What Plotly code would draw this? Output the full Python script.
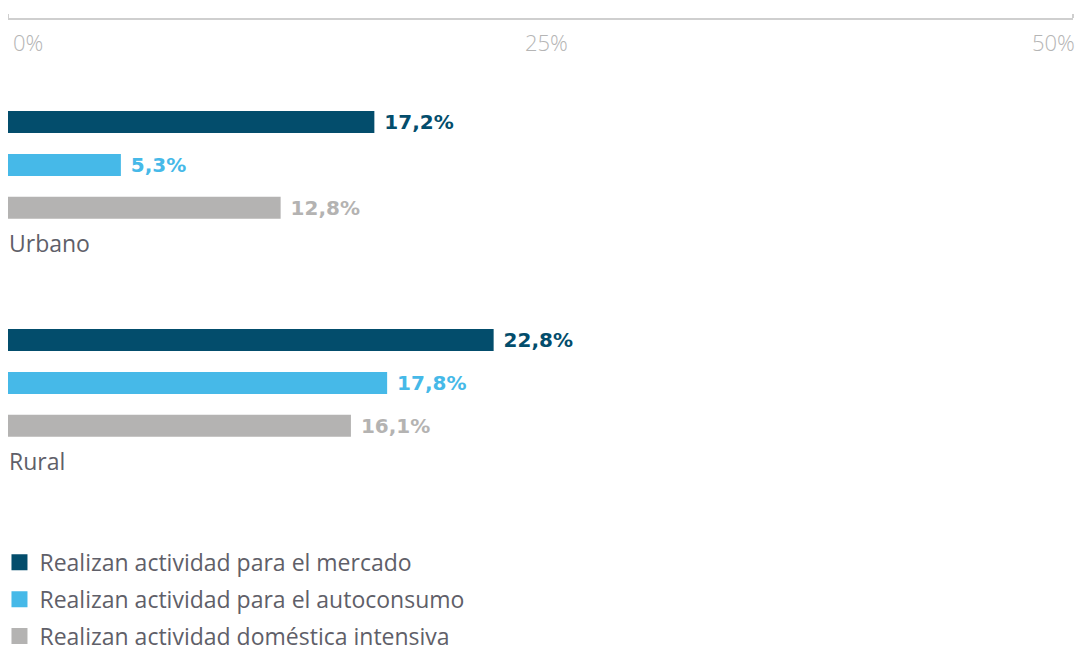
import plotly.graph_objects as go

categories = ["Urbano", "Rural"]
series_names = [
    "Realizan actividad para el mercado",
    "Realizan actividad para el autoconsumo",
    "Realizan actividad doméstica intensiva",
]
mercado = [17.2, 22.8]
autoconsumo = [5.3, 17.8]
domestica = [12.8, 16.1]
series_values = [mercado, autoconsumo, domestica]
colors = ["#034D6C", "#46B9E8", "#B4B3B2"]
tick_vals = [0, 25, 50]
tick_text = ["0%", "25%", "50%"]

FONT = "Open Sans"
fig = go.Figure()

for name, vals, col in zip(series_names, series_values, colors):
    fig.add_trace(go.Bar(
        y=categories, x=vals, orientation="h", name=name,
        marker=dict(color=col, line=dict(width=0)),
        texttemplate="\u00a0%{x:.1f}%", textposition="outside", constraintext="none",
        textfont=dict(family="DejaVu Sans", size=20, color=col, weight="bold"),
        cliponaxis=False, showlegend=False, hoverinfo="skip",
    ))

for name, col in zip(series_names, colors):
    fig.add_trace(go.Scatter(
        x=[None], y=[None], mode="markers", name=name,
        marker=dict(symbol="square", size=16, color=col),
        legendgroup=name,
    ))

# tick labels under the top axis line
anchors = ["left", "center", "right"]
shifts = [3, 6, 4]
for v, t, a, s in zip(tick_vals, tick_text, anchors, shifts):
    fig.add_annotation(x=v, y=1, xref="x", yref="paper", text=t, showarrow=False,
                       xanchor=a, yanchor="top", yshift=-5, xshift=s,
                       font=dict(family=FONT, size=22, color="#B5B5B5", weight=300))

# category labels under each group
for c in categories:
    fig.add_annotation(x=0, y=c, xref="x", yref="y", text=c, showarrow=False,
                       xanchor="left", yanchor="middle", yshift=-78, xshift=-1,
                       font=dict(family=FONT, size=23, color="#5F5F69"))

fig.update_layout(
    width=1075, height=638,
    margin=dict(l=0, r=10, t=12, b=146, autoexpand=False),
    paper_bgcolor="white", plot_bgcolor="white",
    barmode="group", bargap=0.41, bargroupgap=0.487,
    separators=",.",
    font=dict(family=FONT),
    xaxis=dict(range=[0, 50], side="top", showline=True, linecolor="#CFCFCF", linewidth=1.5,
               showgrid=False, zeroline=False, showticklabels=False,
               tickvals=[0, 50], ticks="outside", ticklen=4, tickcolor="#CFCFCF", tickwidth=1.5),
    yaxis=dict(range=[1.537, -0.665], showticklabels=False, showgrid=False,
               zeroline=False, showline=False),
    legend=dict(x=-0.008, y=-0.085, xanchor="left", yanchor="top", orientation="v",
                font=dict(family=FONT, size=23, color="#5F5F69"),
                tracegroupgap=4, bgcolor="rgba(0,0,0,0)"),
)

fig.write_html("out.html")
